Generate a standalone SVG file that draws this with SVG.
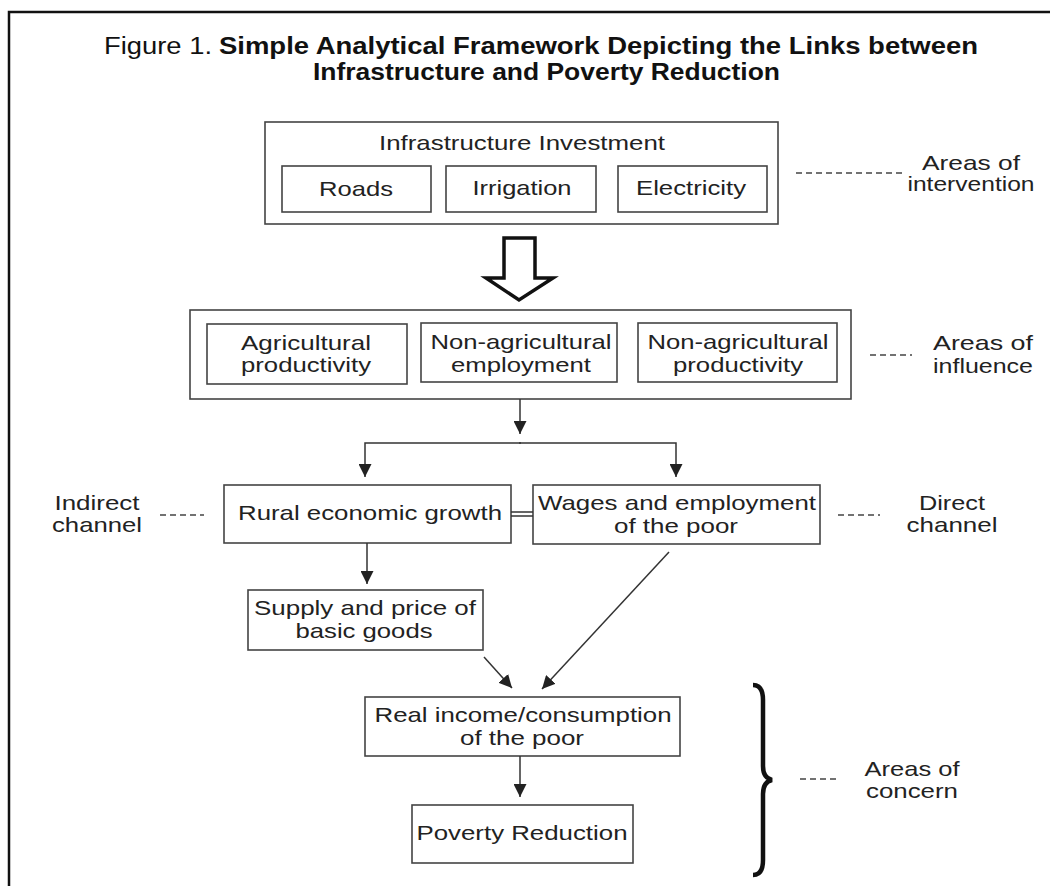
<svg xmlns="http://www.w3.org/2000/svg" width="1050" height="886" viewBox="0 0 1050 886">
<style>
text{font-family:"Liberation Sans",Arial,sans-serif;font-size:21px;fill:#222;text-anchor:middle}
.title{font-size:23px;fill:#111;text-anchor:start}
.b{font-weight:bold}
.box{fill:#fff;stroke:#444;stroke-width:1.6}
.ln{fill:none;stroke:#333;stroke-width:1.5}
.dash{fill:none;stroke:#444;stroke-width:1.4;stroke-dasharray:6,4}
</style>
<defs>
<marker id="ah2" viewBox="0 0 12 12" refX="12" refY="6" markerWidth="13" markerHeight="13" markerUnits="userSpaceOnUse" orient="auto">
<path d="M0,0 L12,6 L0,12 z" fill="#222"/>
</marker>
</defs>
<rect width="1050" height="886" fill="#fff"/>
<g id="frame">
<path d="M9,886 L9,12 L1050,12" fill="none" stroke="#111" stroke-width="2.5"/>
</g>
<g id="title">
<text class="title" x="104" y="54" textLength="108" lengthAdjust="spacingAndGlyphs">Figure 1.</text>
<text class="title b" x="219" y="54" textLength="759" lengthAdjust="spacingAndGlyphs">Simple Analytical Framework Depicting the Links between</text>
<text class="title b" x="313" y="80" textLength="467" lengthAdjust="spacingAndGlyphs">Infrastructure and Poverty Reduction</text>
</g>
<g id="infrastructure">
<rect class="box" x="265" y="122" width="513" height="102"/>
<text x="522" y="150" textLength="286" lengthAdjust="spacingAndGlyphs">Infrastructure Investment</text>
</g>
<g id="roads">
<rect class="box" x="282" y="166" width="149" height="46"/>
<text x="356" y="196" textLength="74" lengthAdjust="spacingAndGlyphs">Roads</text>
</g>
<g id="irrigation">
<rect class="box" x="446" y="166" width="150" height="46"/>
<text x="522" y="195" textLength="99" lengthAdjust="spacingAndGlyphs">Irrigation</text>
</g>
<g id="electricity">
<rect class="box" x="618" y="166" width="149" height="46"/>
<text x="691" y="195" textLength="110" lengthAdjust="spacingAndGlyphs">Electricity</text>
</g>
<g id="label-intervention">
<line class="dash" x1="796" y1="173" x2="902" y2="173"/>
<text x="971" y="170" textLength="98" lengthAdjust="spacingAndGlyphs">Areas of</text>
<text x="971" y="191" textLength="127" lengthAdjust="spacingAndGlyphs">intervention</text>
</g>
<g id="hollow-arrow">
<path d="M504,238 L535,238 L535,278 L553,278 L519,300 L486,278 L504,278 Z" fill="#fff" stroke="#111" stroke-width="3.5" stroke-linejoin="miter"/>
</g>
<g id="influence">
<rect class="box" x="190" y="310" width="661" height="89"/>
</g>
<g id="agri-prod">
<rect class="box" x="207" y="324" width="200" height="60"/>
<text x="306" y="350" textLength="130" lengthAdjust="spacingAndGlyphs">Agricultural</text>
<text x="306" y="372" textLength="130" lengthAdjust="spacingAndGlyphs">productivity</text>
</g>
<g id="nonagri-emp">
<rect class="box" x="421" y="323" width="196" height="59"/>
<text x="521" y="349" textLength="181" lengthAdjust="spacingAndGlyphs">Non-agricultural</text>
<text x="521" y="372" textLength="140" lengthAdjust="spacingAndGlyphs">employment</text>
</g>
<g id="nonagri-prod">
<rect class="box" x="638" y="323" width="199" height="59"/>
<text x="738" y="349" textLength="181" lengthAdjust="spacingAndGlyphs">Non-agricultural</text>
<text x="738" y="372" textLength="130" lengthAdjust="spacingAndGlyphs">productivity</text>
</g>
<g id="label-influence">
<line class="dash" x1="870" y1="355" x2="912" y2="355"/>
<text x="983" y="350" textLength="100" lengthAdjust="spacingAndGlyphs">Areas of</text>
<text x="983" y="373" textLength="100" lengthAdjust="spacingAndGlyphs">influence</text>
</g>
<g id="rural-growth">
<rect class="box" x="224" y="485" width="287" height="58"/>
<text x="370" y="520" textLength="264" lengthAdjust="spacingAndGlyphs">Rural economic growth</text>
</g>
<g id="wages">
<rect class="box" x="533" y="485" width="287" height="59"/>
<text x="677" y="510" textLength="278" lengthAdjust="spacingAndGlyphs">Wages and employment</text>
<text x="676" y="533" textLength="124" lengthAdjust="spacingAndGlyphs">of the poor</text>
</g>
<g id="label-indirect">
<text x="97" y="510" textLength="85" lengthAdjust="spacingAndGlyphs">Indirect</text>
<text x="97" y="532" textLength="90" lengthAdjust="spacingAndGlyphs">channel</text>
<line class="dash" x1="160" y1="515" x2="204" y2="515"/>
</g>
<g id="label-direct">
<line class="dash" x1="838" y1="515" x2="880" y2="515"/>
<text x="952" y="510" textLength="66" lengthAdjust="spacingAndGlyphs">Direct</text>
<text x="952" y="532" textLength="91" lengthAdjust="spacingAndGlyphs">channel</text>
</g>
<g id="supply">
<rect class="box" x="248" y="590" width="235" height="60"/>
<text x="365" y="615" textLength="222" lengthAdjust="spacingAndGlyphs">Supply and price of</text>
<text x="364" y="638" textLength="137" lengthAdjust="spacingAndGlyphs">basic goods</text>
</g>
<g id="real-income">
<rect class="box" x="365" y="697" width="315" height="59"/>
<text x="523" y="722" textLength="297" lengthAdjust="spacingAndGlyphs">Real income/consumption</text>
<text x="522" y="745" textLength="124" lengthAdjust="spacingAndGlyphs">of the poor</text>
</g>
<g id="poverty-reduction">
<rect class="box" x="412" y="805" width="221" height="58"/>
<text x="522" y="840" textLength="211" lengthAdjust="spacingAndGlyphs">Poverty Reduction</text>
</g>
<g id="label-concern">
<path d="M753,685 Q763,685 763,700 L763,766 Q763,778 772,780 Q763,782 763,794 L763,860 Q763,875 753,875" fill="none" stroke="#111" stroke-width="4.5"/>
<line class="dash" x1="800" y1="779" x2="840" y2="779"/>
<text x="912" y="776" textLength="95" lengthAdjust="spacingAndGlyphs">Areas of</text>
<text x="912" y="798" textLength="92" lengthAdjust="spacingAndGlyphs">concern</text>
</g>
<g id="connectors">
<line class="ln" x1="520" y1="399" x2="520" y2="434" marker-end="url(#ah2)"/>
<path class="ln" d="M521,443 L365,443 L365,477" marker-end="url(#ah2)"/>
<path class="ln" d="M519,443 L676,443 L676,477" marker-end="url(#ah2)"/>
<line class="ln" x1="511" y1="512" x2="533" y2="512"/>
<line class="ln" x1="511" y1="516" x2="533" y2="516"/>
<line class="ln" x1="367" y1="543" x2="367" y2="584" marker-end="url(#ah2)"/>
<line class="ln" x1="484" y1="657" x2="512" y2="688" marker-end="url(#ah2)"/>
<line class="ln" x1="669" y1="552" x2="542" y2="689" marker-end="url(#ah2)"/>
<line class="ln" x1="520" y1="756" x2="520" y2="797" marker-end="url(#ah2)"/>
</g>
</svg>
